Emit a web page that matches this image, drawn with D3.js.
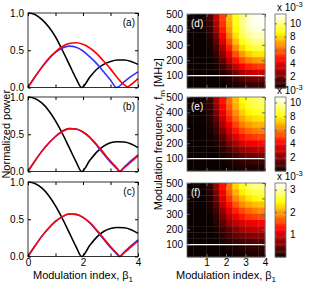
<!DOCTYPE html>
<html>
<head>
<meta charset="utf-8">
<script src="https://cdn.jsdelivr.net/npm/d3@7"></script>
<style>
  body { margin: 0; background: #fff; }
  text { font-family: "Liberation Sans", Arial, sans-serif; }
</style>
</head>
<body>
<div id="chart"></div>
<script>
// ---------- data: line panels (a)-(c), [beta, normalized power] ----------
const blackA = [[0,1],[0.25,0.98],[0.5,0.915],[0.75,0.815],[1,0.68],[1.25,0.5],[1.5,0.31],[1.75,0.12],[1.95,0],[2.25,0.14],[2.5,0.245],[2.75,0.31],[3,0.35],[3.25,0.37],[3.5,0.37],[3.75,0.35],[4,0.31]];
const redA = [[0,0],[0.25,0.14],[0.5,0.27],[0.75,0.39],[1,0.48],[1.25,0.55],[1.5,0.59],[1.75,0.6],[2,0.58],[2.25,0.53],[2.5,0.455],[2.75,0.355],[3,0.25],[3.25,0.13],[3.5,0.035],[3.62,0.01],[3.75,0.04],[4,0.12]];
const blueA = [[0,0],[0.25,0.14],[0.5,0.27],[0.75,0.38],[1,0.47],[1.25,0.53],[1.5,0.555],[1.75,0.54],[2,0.49],[2.25,0.41],[2.5,0.32],[2.75,0.21],[3,0.1],[3.22,0],[3.5,0.08],[3.75,0.15],[4,0.21]];

const blackB = [[0,1],[0.25,0.98],[0.5,0.92],[0.75,0.82],[1,0.68],[1.25,0.51],[1.5,0.32],[1.75,0.13],[1.95,0],[2.25,0.15],[2.5,0.26],[2.75,0.34],[3,0.385],[3.25,0.4],[3.5,0.395],[3.75,0.37],[4,0.32]];
const redB = [[0,0],[0.25,0.14],[0.5,0.27],[0.75,0.38],[1,0.47],[1.25,0.54],[1.5,0.575],[1.75,0.57],[2,0.53],[2.25,0.46],[2.5,0.36],[2.75,0.25],[3,0.14],[3.25,0.04],[3.35,0],[3.5,0.05],[3.75,0.13],[4,0.21]];
const blueB = [[0,0],[0.25,0.14],[0.5,0.27],[0.75,0.38],[1,0.47],[1.25,0.54],[1.5,0.575],[1.75,0.57],[2,0.53],[2.25,0.455],[2.5,0.35],[2.75,0.235],[3,0.125],[3.25,0.03],[3.32,0],[3.5,0.06],[3.75,0.145],[4,0.225]];

const blackC = [[0,1],[0.25,0.98],[0.5,0.92],[0.75,0.82],[1,0.68],[1.25,0.51],[1.5,0.32],[1.75,0.13],[1.95,0],[2.25,0.15],[2.5,0.26],[2.75,0.335],[3,0.375],[3.25,0.39],[3.5,0.385],[3.75,0.36],[4,0.31]];
const redC = [[0,0],[0.25,0.14],[0.5,0.27],[0.75,0.38],[1,0.47],[1.25,0.535],[1.5,0.57],[1.75,0.565],[2,0.525],[2.25,0.455],[2.5,0.355],[2.75,0.245],[3,0.135],[3.25,0.035],[3.35,0],[3.5,0.05],[3.75,0.13],[4,0.21]];
const blueC = [[0,0],[0.25,0.14],[0.5,0.27],[0.75,0.38],[1,0.47],[1.25,0.535],[1.5,0.57],[1.75,0.565],[2,0.525],[2.25,0.45],[2.5,0.345],[2.75,0.23],[3,0.12],[3.25,0.025],[3.32,0],[3.5,0.06],[3.75,0.145],[4,0.225]];

const lineXTicks = [0, 1, 2, 3, 4];
const lineXLabels = [0, 2, 4];
const lineYTicks = [0, 0.5, 1];
const lineLabels = ["(a)", "(b)", "(c)"];

// ---------- data: heatmaps (d)-(f) ----------
const betaCells = [1/6, 0.5, 5/6, 7/6, 1.5, 11/6, 13/6, 2.5, 17/6, 19/6, 3.5, 23/6];
const freqCells = [480, 440, 400, 360, 320, 280, 240, 200, 160, 120, 80, 40];

const heatD = [
  [0.3,0.3,0.5,1.5,3.5,5.5,7.5,9.0,10.0,10.8,11.2,11.3],
  [0.3,0.3,0.4,1.2,3.2,5.3,7.3,8.9,10.0,10.8,11.2,11.3],
  [0.3,0.3,0.4,1.0,2.8,4.9,7.0,8.6,9.8,10.6,11.0,11.1],
  [0.3,0.3,0.3,0.8,2.3,4.4,6.5,8.2,9.4,10.2,10.6,10.7],
  [0.3,0.3,0.3,0.6,1.8,3.8,5.8,7.6,8.8,9.6,10.0,10.1],
  [0.3,0.3,0.3,0.5,1.4,3.1,5.0,6.8,8.0,8.8,9.2,9.3],
  [0.3,0.3,0.3,0.4,1.0,2.4,4.2,5.8,7.0,7.8,8.2,8.3],
  [0.3,0.3,0.3,0.3,0.7,1.7,3.2,4.7,5.8,6.5,6.9,7.0],
  [0.3,0.3,0.3,0.3,0.5,1.1,2.2,3.4,4.4,5.0,5.3,5.4],
  [0.3,0.3,0.3,0.3,0.4,0.7,1.3,2.2,2.9,3.4,3.6,3.7],
  [0.3,0.3,0.3,0.3,0.3,0.4,0.7,1.1,1.6,1.9,2.1,2.1],
  [0.3,0.3,0.3,0.3,0.3,0.3,0.4,0.6,0.8,1.0,1.1,1.1]
];
const heatE = [
  [0,0,0.1,0.7,2.5,4.3,5.8,7.1,8.1,8.8,9.1,9.2],
  [0,0,0.1,0.6,2.2,4.0,5.5,6.8,7.8,8.5,8.8,8.9],
  [0,0,0.1,0.5,1.9,3.6,5.1,6.3,7.3,8.0,8.3,8.4],
  [0,0,0,0.4,1.5,3.1,4.6,5.8,6.7,7.3,7.6,7.7],
  [0,0,0,0.3,1.1,2.6,4.0,5.1,6.0,6.5,6.8,6.9],
  [0,0,0,0.2,0.8,2.0,3.3,4.4,5.2,5.7,6.0,6.1],
  [0,0,0,0.1,0.5,1.4,2.6,3.6,4.3,4.8,5.0,5.1],
  [0,0,0,0,0.3,0.9,1.8,2.7,3.4,3.8,4.0,4.1],
  [0,0,0,0,0.1,0.5,1.1,1.8,2.4,2.7,2.9,3.0],
  [0,0,0,0,0,0.2,0.5,1.0,1.4,1.7,1.8,1.9],
  [0,0,0,0,0,0.1,0.2,0.4,0.6,0.7,0.8,0.8],
  [0,0,0,0,0,0,0.1,0.2,0.3,0.3,0.3,0.3]
];
const heatF = [
  [0,0,0,0.2,0.7,1.3,1.8,2.3,2.6,2.8,2.9,2.9],
  [0,0,0,0.15,0.6,1.2,1.7,2.1,2.4,2.6,2.7,2.7],
  [0,0,0,0.1,0.5,1.05,1.5,1.9,2.15,2.35,2.45,2.5],
  [0,0,0,0.1,0.4,0.9,1.3,1.65,1.9,2.05,2.15,2.2],
  [0,0,0,0.05,0.3,0.7,1.1,1.4,1.6,1.75,1.85,1.9],
  [0,0,0,0,0.2,0.55,0.9,1.15,1.35,1.5,1.55,1.6],
  [0,0,0,0,0.15,0.4,0.7,0.9,1.05,1.15,1.2,1.25],
  [0,0,0,0,0.1,0.25,0.45,0.65,0.8,0.9,0.95,0.95],
  [0,0,0,0,0.05,0.15,0.3,0.45,0.55,0.6,0.65,0.65],
  [0,0,0,0,0,0.1,0.15,0.25,0.3,0.35,0.4,0.4],
  [0,0,0,0,0,0,0.1,0.1,0.15,0.2,0.2,0.2],
  [0,0,0,0,0,0,0,0.05,0.05,0.1,0.1,0.1]
];
const heatRanges = [[0.3, 11.4], [0, 10.8], [0, 3.3]];
const cbarTicks = [[2,4,6,8,10], [2,4,6,8,10], [1,2,3]];
const heatLabels = ["(d)", "(e)", "(f)"];
const heatXTicks = [1, 2, 3, 4];
const heatYTicks = [100, 200, 300, 400, 500];
const markerFreq = 100;

// ---------- layout ----------
const width = 315, height = 284;
const leftPanel = { x0: 28, x1: 138 };
const heatPanel = { x0: 187, x1: 265 };
const cbarPanel = { x0: 275, x1: 286 };
const leftTops = [13, 97, 182];
const rightTops = [14, 97, 183];
const panelH = 74.5;

const svg = d3.select("#chart").append("svg")
  .attr("width", width).attr("height", height);

// MATLAB "hot" colormap
const hot = d3.scaleLinear()
  .domain([0, 0.375, 0.75, 1])
  .range(["#0b0000", "#ff0000", "#ffff00", "#ffffff"])
  .clamp(true);

function boxAxes(g, xScale, yScale, xTicks, yTicks, xLabels, tickCol) {
  const w = xScale.range()[1], h = yScale.range()[0];
  const fmtX = d => (xLabels && xLabels.includes(d)) ? d : "";
  g.append("g").attr("transform", `translate(0,${h})`)
    .call(d3.axisBottom(xScale).tickValues(xTicks).tickSize(-3).tickPadding(2).tickFormat(xLabels ? fmtX : () => ""));
  g.append("g")
    .call(d3.axisTop(xScale).tickValues(xTicks).tickSize(-3).tickFormat(() => ""));
  g.append("g")
    .call(d3.axisLeft(yScale).tickValues(yTicks).tickSize(-3).tickPadding(4));
  g.append("g").attr("transform", `translate(${w},0)`)
    .call(d3.axisRight(yScale).tickValues(yTicks).tickSize(-3).tickFormat(() => ""));
  g.selectAll(".domain").remove();
  g.selectAll(".tick line").attr("stroke", tickCol);
  g.selectAll(".tick text").attr("font-size", 10).attr("fill", "#000")
    .style("font-family", '"Liberation Sans", Arial, sans-serif');
  g.append("rect").attr("width", w).attr("height", h)
    .attr("fill", "none").attr("stroke", tickCol).attr("stroke-width", 0.8);
}

// ---------- left column: line panels ----------
const lineSets = [[blackA, blueA, redA], [blackB, blueB, redB], [blackC, blueC, redC]];
const lineColors = ["#000000", "#3333ff", "#ff0000"];

lineSets.forEach((set, i) => {
  const g = svg.append("g").attr("transform", `translate(${leftPanel.x0},${leftTops[i]})`);
  const x = d3.scaleLinear().domain([0, 4]).range([0, leftPanel.x1 - leftPanel.x0]);
  const y = d3.scaleLinear().domain([0, 1]).range([panelH, 0]);
  const line = d3.line().x(d => x(d[0])).y(d => y(d[1])).curve(d3.curveMonotoneX);

  set.forEach((pts, k) => {
    g.append("path").datum(pts)
      .attr("d", line)
      .attr("fill", "none")
      .attr("stroke", lineColors[k])
      .attr("stroke-width", 1.6);
  });

  boxAxes(g, x, y, lineXTicks, lineYTicks, i === 2 ? lineXLabels : null, "#000");

  g.append("text").attr("x", x(4) - 3).attr("y", 13)
    .attr("text-anchor", "end").attr("font-size", 10).text(lineLabels[i]);
});

// ---------- right column: heatmaps ----------
const heatSets = [heatD, heatE, heatF];
const freqHalf = 20, betaHalf = 1 / 6;

heatSets.forEach((grid, i) => {
  const h = panelH - 0.5;
  const g = svg.append("g").attr("transform", `translate(${heatPanel.x0},${rightTops[i]})`);
  const x = d3.scaleLinear().domain([0, 4]).range([0, heatPanel.x1 - heatPanel.x0]);
  const y = d3.scaleLinear().domain([20, 500]).range([h, 0]);
  const norm = d3.scaleLinear().domain(heatRanges[i]).range([0, 1]);

  grid.forEach((row, r) => {
    row.forEach((v, c) => {
      const b = betaCells[c], f = freqCells[r];
      g.append("rect")
        .attr("x", x(b - betaHalf))
        .attr("y", y(f + freqHalf))
        .attr("width", x(b + betaHalf) - x(b - betaHalf) + 0.3)
        .attr("height", y(f - freqHalf) - y(f + freqHalf) + 0.3)
        .attr("fill", hot(norm(v)));
    });
  });

  g.append("line")
    .attr("x1", 0).attr("x2", x(4))
    .attr("y1", y(markerFreq)).attr("y2", y(markerFreq))
    .attr("stroke", "#fff").attr("stroke-width", 1.4);

  boxAxes(g, x, y, heatXTicks, heatYTicks, i === 2 ? heatXTicks : null, "#666");

  g.append("text").attr("x", 4).attr("y", 13)
    .attr("font-size", 10).attr("fill", "#fff").text(heatLabels[i]);

  // colorbar
  const cb = svg.append("g").attr("transform", `translate(${cbarPanel.x0},${rightTops[i]})`);
  const cw = cbarPanel.x1 - cbarPanel.x0;
  const cy = d3.scaleLinear().domain(heatRanges[i]).range([h, 0]);
  const steps = d3.range(64);
  const [lo, hi] = heatRanges[i];
  cb.selectAll("rect.step").data(steps).join("rect")
    .attr("class", "step")
    .attr("x", 0).attr("width", cw)
    .attr("y", s => cy(lo + (s + 1) * (hi - lo) / 64))
    .attr("height", h / 64 + 0.4)
    .attr("fill", s => hot((s + 0.5) / 64));
  cb.append("g").attr("transform", `translate(${cw},0)`)
    .call(d3.axisRight(cy).tickValues(cbarTicks[i]).tickSize(-2).tickPadding(4).tickFormat(d3.format("d")));
  cb.append("g")
    .call(d3.axisLeft(cy).tickValues(cbarTicks[i]).tickSize(-2).tickFormat(() => ""));
  cb.selectAll(".domain").remove();
  cb.selectAll(".tick line").attr("stroke", "#666");
  cb.selectAll(".tick text").attr("font-size", 10).attr("fill", "#000")
    .style("font-family", '"Liberation Sans", Arial, sans-serif');
  cb.append("rect").attr("width", cw).attr("height", h)
    .attr("fill", "none").attr("stroke", "#666").attr("stroke-width", 0.8);

  const ex = cb.append("text").attr("x", 2).attr("y", -3).attr("font-size", 10);
  ex.append("tspan").text("x 10");
  ex.append("tspan").attr("dy", -4).attr("font-size", 7.5).text("-3");
});

// ---------- axis titles ----------
svg.append("text")
  .attr("transform", `translate(10,${leftTops[1] + panelH / 2}) rotate(-90)`)
  .attr("text-anchor", "middle").attr("font-size", 11)
  .text("Normalized power");

const fLabel = svg.append("text")
  .attr("transform", `translate(162,${leftTops[1] + panelH / 2}) rotate(-90)`)
  .attr("text-anchor", "middle").attr("font-size", 11);
fLabel.append("tspan").text("Modulation frequency, f");
fLabel.append("tspan").attr("dy", 3).attr("font-size", 8).text("m");
fLabel.append("tspan").attr("dy", -3).text(" [MHz]");

[(leftPanel.x0 + leftPanel.x1) / 2, (heatPanel.x0 + heatPanel.x1) / 2].forEach(cx => {
  const t = svg.append("text").attr("x", cx).attr("y", 279)
    .attr("text-anchor", "middle").attr("font-size", 11);
  t.append("tspan").text("Modulation index, β");
  t.append("tspan").attr("dy", 3).attr("font-size", 8).text("1");
});
</script>
</body>
</html>
